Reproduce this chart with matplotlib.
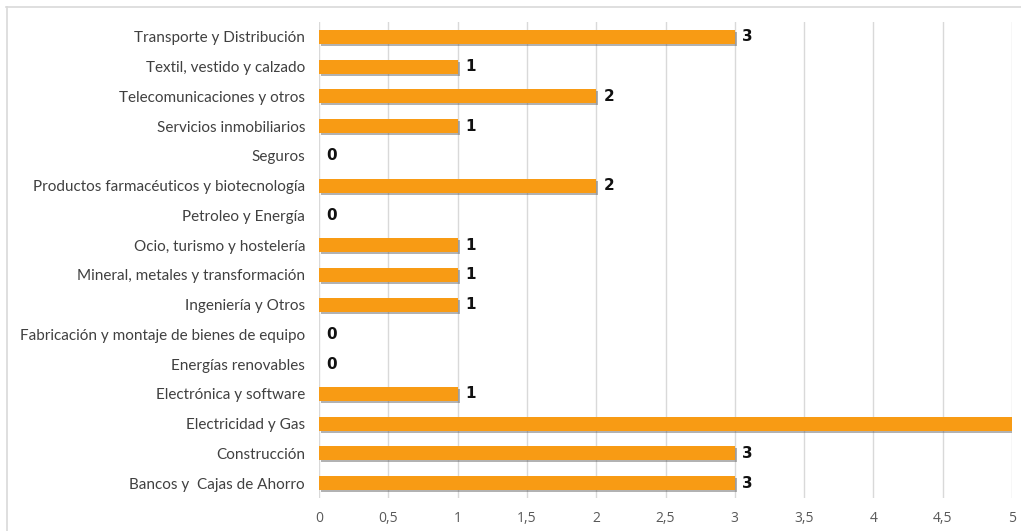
import matplotlib
matplotlib.use("Agg")
import matplotlib.pyplot as plt
import matplotlib.patheffects as pe
from matplotlib.lines import Line2D

categories = [
    "Bancos y  Cajas de Ahorro",
    "Construcción",
    "Electricidad y Gas",
    "Electrónica y software",
    "Energías renovables",
    "Fabricación y montaje de bienes de equipo",
    "Ingeniería y Otros",
    "Mineral, metales y transformación",
    "Ocio, turismo y hostelería",
    "Petroleo y Energía",
    "Productos farmacéuticos y biotecnología",
    "Seguros",
    "Servicios inmobiliarios",
    "Telecomunicaciones y otros",
    "Textil, vestido y calzado",
    "Transporte y Distribución",
]
values = [3, 3, 5, 1, 0, 0, 1, 1, 1, 0, 2, 0, 1, 2, 1, 3]
x_ticks = [0, 0.5, 1, 1.5, 2, 2.5, 3, 3.5, 4, 4.5, 5]
x_tick_labels = ["0", "0,5", "1", "1,5", "2", "2,5", "3", "3,5", "4", "4,5", "5"]

W, H = 1021, 531
fig = plt.figure(figsize=(W / 100, H / 100), dpi=100)
ax = fig.add_axes([319 / W, 1 - 498 / H, (1012 - 319) / W, (498 - 22) / H])

bar_color = "#F89B14"
ypos = list(range(len(categories)))
bars = ax.barh(ypos, values, height=0.47, color=bar_color, zorder=3)
for b in bars:
    b.set_path_effects([pe.SimplePatchShadow(offset=(1.5, -1.5), shadow_rgbFace="#555555", alpha=0.45),
                        pe.Normal()])

for y, v in zip(ypos, values):
    ax.annotate(str(v), xy=(v, y), xytext=(5.5, 0), textcoords="offset points",
                ha="left", va="center", fontsize=11, fontweight="heavy",
                color="#111111", family="DejaVu Sans", annotation_clip=False, zorder=4)

ax.set_xlim(0, 5)
ax.set_ylim(-0.5, len(categories) - 0.5)
ax.set_xticks(x_ticks)
ax.set_xticklabels(x_tick_labels, family="Open Sans", fontsize=10, color="#595959")
ax.set_yticks(ypos)
ax.set_yticklabels(categories, family="Lato", fontsize=11, color="#404040")
ax.tick_params(axis="both", length=0)
ax.tick_params(axis="x", pad=9)
ax.tick_params(axis="y", pad=10)
ax.grid(axis="x", color="#D9D9D9", linewidth=1, zorder=0)
for s in ax.spines.values():
    s.set_visible(False)

# outer frame: top and left edges
fig.add_artist(Line2D([6 / W, 1], [1 - 6.5 / H, 1 - 6.5 / H], color="#D9D9D9", linewidth=1.2))
fig.add_artist(Line2D([6.5 / W, 6.5 / W], [0, 1 - 6.5 / H], color="#D9D9D9", linewidth=1.2))

fig.savefig("out.png", dpi=100, facecolor="white")
